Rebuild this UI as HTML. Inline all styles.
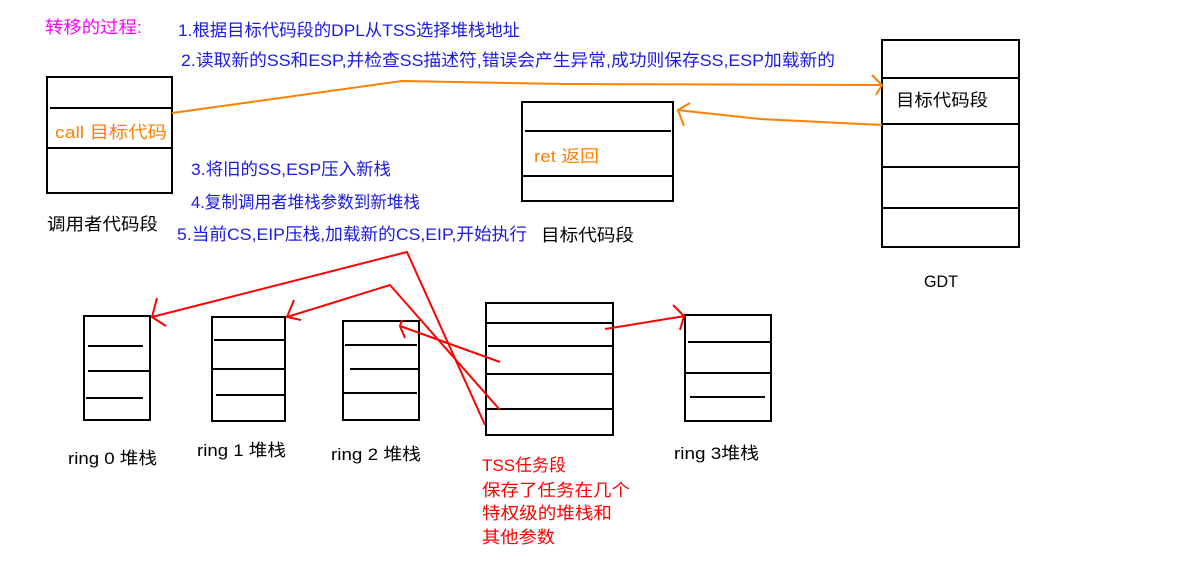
<!DOCTYPE html>
<html><head><meta charset="utf-8"><style>
body{margin:0;background:#fff;width:1189px;height:559px;overflow:hidden}
svg text{font-family:"Liberation Sans","Noto Sans CJK SC",sans-serif;font-size:17px}
.b{fill:#1a1ae6}.o{fill:#ff8000}.k{fill:#000}.r{fill:#f00}
</style></head><body>
<svg width="1189" height="559" viewBox="0 0 1189 559">
<g fill="none" stroke="#000" stroke-width="2">
<rect x="47" y="77" width="125" height="116"/><line x1="50" y1="108" x2="172" y2="108"/><line x1="47" y1="148" x2="172" y2="148"/>
<rect x="522" y="102" width="151" height="99"/><line x1="525" y1="131" x2="671" y2="131"/><line x1="522" y1="176" x2="673" y2="176"/>
<rect x="882" y="40" width="137" height="207"/><line x1="882" y1="78" x2="1019" y2="78"/><line x1="882" y1="124" x2="1019" y2="124"/><line x1="882" y1="167" x2="1019" y2="167"/><line x1="882" y1="208" x2="1019" y2="208"/>
<rect x="84" y="316" width="66" height="104"/><line x1="88" y1="346" x2="143" y2="346"/><line x1="88" y1="371" x2="150" y2="371"/><line x1="86" y1="398" x2="143" y2="398"/>
<rect x="212" y="317" width="73" height="104"/><line x1="214" y1="340" x2="285" y2="340"/><line x1="212" y1="369" x2="285" y2="369"/><line x1="216" y1="395" x2="285" y2="395"/>
<rect x="343" y="321" width="76" height="99"/><line x1="345" y1="345" x2="417" y2="345"/><line x1="350" y1="369" x2="419" y2="369"/><line x1="343" y1="393" x2="417" y2="393"/>
<rect x="486" y="303" width="127" height="132"/><line x1="486" y1="323" x2="613" y2="323"/><line x1="488" y1="346" x2="613" y2="346"/><line x1="486" y1="374" x2="613" y2="374"/><line x1="486" y1="409" x2="613" y2="409"/>
<rect x="685" y="315" width="86" height="106"/><line x1="688" y1="342" x2="771" y2="342"/><line x1="685" y1="373" x2="771" y2="373"/><line x1="690" y1="397" x2="765" y2="397"/>
</g>
<g fill="none" stroke="#ff8000" stroke-width="2">
<polyline points="172,113 402,81 565,84 882,85"/><polyline points="872,75 882,85 876,95"/>
<polyline points="882,125 760,119 677,110"/><polyline points="690,103 678,110 684,126"/>
</g>
<g fill="none" stroke="#f00" stroke-width="2">
<polyline points="152,317 407,252 485,425"/><polyline points="157,298 152,317 166,326"/>
<polyline points="287,317 390,285 500,410"/><polyline points="294,300 287,317 301,320"/>
<polyline points="500,362 400,326"/><polyline points="402,320 400,326 405,338"/>
<polyline points="605,329 685,316"/><polyline points="673,305 684,316 680,330"/>
</g>
<text x="45" y="33" style="fill:#ff00ff" textLength="97" lengthAdjust="spacingAndGlyphs">转移的过程:</text>
<text x="178" y="36" class="b" textLength="342" lengthAdjust="spacingAndGlyphs">1.根据目标代码段的DPL从TSS选择堆栈地址</text>
<text x="181" y="66" class="b" textLength="654" lengthAdjust="spacingAndGlyphs">2.读取新的SS和ESP,并检查SS描述符,错误会产生异常,成功则保存SS,ESP加载新的</text>
<text x="191" y="175" class="b" textLength="200" lengthAdjust="spacingAndGlyphs">3.将旧的SS,ESP压入新栈</text>
<text x="191" y="208" class="b" textLength="229" lengthAdjust="spacingAndGlyphs">4.复制调用者堆栈参数到新堆栈</text>
<text x="177" y="240" class="b" textLength="350" lengthAdjust="spacingAndGlyphs">5.当前CS,EIP压栈,加载新的CS,EIP,开始执行</text>
<text x="55" y="138" class="o" textLength="112" lengthAdjust="spacingAndGlyphs">call  目标代码</text>
<text x="534" y="162" class="o" textLength="65" lengthAdjust="spacingAndGlyphs">ret 返回</text>
<text x="47" y="230" class="k" textLength="111" lengthAdjust="spacingAndGlyphs">调用者代码段</text>
<text x="541" y="241" class="k" textLength="93" lengthAdjust="spacingAndGlyphs">目标代码段</text>
<text x="896" y="106" class="k" textLength="92" lengthAdjust="spacingAndGlyphs">目标代码段</text>
<text x="924" y="287" class="k" textLength="34" lengthAdjust="spacingAndGlyphs">GDT</text>
<text x="68" y="464" class="k" textLength="89" lengthAdjust="spacingAndGlyphs">ring 0 堆栈</text>
<text x="197" y="456" class="k" textLength="89" lengthAdjust="spacingAndGlyphs">ring 1 堆栈</text>
<text x="331" y="460" class="k" textLength="90" lengthAdjust="spacingAndGlyphs">ring 2 堆栈</text>
<text x="674" y="459" class="k" textLength="85" lengthAdjust="spacingAndGlyphs">ring 3堆栈</text>
<text x="482" y="471" class="r" textLength="84" lengthAdjust="spacingAndGlyphs">TSS任务段</text>
<text x="482" y="496" class="r" textLength="148" lengthAdjust="spacingAndGlyphs">保存了任务在几个</text>
<text x="482" y="519" class="r" textLength="130" lengthAdjust="spacingAndGlyphs">特权级的堆栈和</text>
<text x="482" y="543" class="r" textLength="73" lengthAdjust="spacingAndGlyphs">其他参数</text>
</svg>
</body></html>
